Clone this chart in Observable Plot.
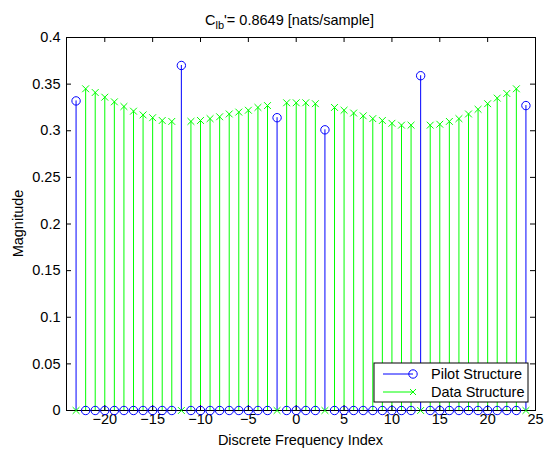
<!DOCTYPE html>
<html>
<head>
<meta charset="utf-8">
<script src="https://cdn.jsdelivr.net/npm/d3@7"></script>
<script src="https://cdn.jsdelivr.net/npm/@observablehq/plot@0.6"></script>
<style>
  html, body { margin: 0; padding: 0; background: #fff; }
  svg text { font-family: "Liberation Sans", Arial, Helvetica, sans-serif; }
</style>
</head>
<body>
<div id="chart"></div>
<script>
// Subcarrier indices of one OFDM symbol
const subcarriers = d3.range(-23, 25);

// Pilot subcarriers and their magnitudes
const pilotIndex = [-23, -12, -2, 3, 13, 24];
const pilotValues = [0.332, 0.370, 0.314, 0.301, 0.359, 0.327];

// Data subcarrier magnitudes, in order of the non-pilot indices
const dataValues = [
  0.345, 0.341, 0.336, 0.331, 0.326, 0.321, 0.317, 0.314, 0.311, 0.310,
  0.310, 0.311, 0.313, 0.315, 0.318, 0.320, 0.322, 0.325, 0.327,
  0.330, 0.330, 0.330, 0.329,
  0.325, 0.322, 0.319, 0.316, 0.313, 0.311, 0.308, 0.306, 0.306,
  0.306, 0.307, 0.310, 0.313, 0.318, 0.323, 0.329, 0.335, 0.340, 0.345
];

const xTicks = [-20, -15, -10, -5, 0, 5, 10, 15, 20, 25];
const yTicks = [0, 0.05, 0.1, 0.15, 0.2, 0.25, 0.3, 0.35, 0.4];

const titleMain = "C";
const titleSub = "lb";
const titleRest = "'= 0.8649 [nats/sample]";
const xLabel = "Discrete Frequency Index";
const yLabel = "Magnitude";
const legendLabels = ["Pilot Structure", "Data Structure"];

const pilotColor = "#0000ff";
const dataColor = "#00ff00";
const fontSize = 14.5;

// Each structure is zero on the other structure's subcarriers
const dataIndex = subcarriers.filter(k => !pilotIndex.includes(k));
const pilotRows = subcarriers.map(k => {
  const i = pilotIndex.indexOf(k);
  return {k, v: i >= 0 ? pilotValues[i] : 0};
});
const dataRows = subcarriers.map(k => {
  const i = dataIndex.indexOf(k);
  return {k, v: i >= 0 ? dataValues[i] : 0};
});

const W = 545, H = 453;
const mL = 66, mR = 10, mT = 37, mB = 43;
const plotW = W - mL - mR, plotH = H - mT - mB;
const tickLen = 5;

const chart = Plot.plot({
  width: W,
  height: H,
  marginLeft: mL,
  marginRight: mR,
  marginTop: mT,
  marginBottom: mB,
  style: {fontFamily: "Liberation Sans, Arial, Helvetica, sans-serif", fontSize: fontSize + "px", color: "#000", background: "#fff"},
  x: {domain: [-24, 25]},
  y: {domain: [0, 0.4]},
  marks: [
    // stems
    Plot.ruleX(dataRows, {x: "k", y1: 0, y2: "v", stroke: dataColor, strokeWidth: 1}),
    Plot.ruleX(pilotRows, {x: "k", y1: 0, y2: "v", stroke: pilotColor, strokeWidth: 1}),
    // inward ticks on all four sides of the box
    Plot.ruleX(xTicks, {x: d => d, insetTop: plotH - tickLen, stroke: "#000"}),
    Plot.ruleX(xTicks, {x: d => d, insetBottom: plotH - tickLen, stroke: "#000"}),
    Plot.ruleY(yTicks, {y: d => d, insetRight: plotW - tickLen, stroke: "#000"}),
    Plot.ruleY(yTicks, {y: d => d, insetLeft: plotW - tickLen, stroke: "#000"}),
    // tick labels
    Plot.axisX(xTicks, {anchor: "bottom", tickSize: 0, tickPadding: 3, label: null, fill: "#000"}),
    Plot.axisY(yTicks, {anchor: "left", tickSize: 0, tickPadding: 6, label: null, fill: "#000",
      tickFormat: d => String(+d.toFixed(2))}),
    Plot.frame({stroke: "#000", strokeWidth: 1}),
    // markers
    Plot.dot(pilotRows, {x: "k", y: "v", r: 4.2, stroke: pilotColor, strokeWidth: 1, fill: "none"}),
    Plot.dot(dataRows, {x: "k", y: "v", r: 3.2, symbol: "times", stroke: dataColor, strokeWidth: 1})
  ]
});

document.getElementById("chart").appendChild(chart);

const svg = d3.select(chart);
const cx = mL + plotW / 2;
const cy = mT + plotH / 2;

// Title with subscript
const title = svg.append("text")
  .attr("x", cx - 11)
  .attr("y", 25)
  .attr("text-anchor", "middle")
  .attr("font-size", fontSize)
  .attr("fill", "#000");
title.append("tspan").text(titleMain);
title.append("tspan").attr("dy", 4).attr("font-size", 11).text(titleSub);
title.append("tspan").attr("dy", -4).text(titleRest);

// Axis titles
svg.append("text")
  .attr("x", cx)
  .attr("y", 445)
  .attr("text-anchor", "middle")
  .attr("font-size", fontSize)
  .attr("fill", "#000")
  .text(xLabel);

svg.append("text")
  .attr("transform", `translate(23,${cy}) rotate(-90)`)
  .attr("text-anchor", "middle")
  .attr("font-size", fontSize)
  .attr("fill", "#000")
  .text(yLabel);

// Legend box in the lower right corner
const lg = svg.append("g").attr("transform", `translate(${W - mR - 161},${H - mB - 47})`);
lg.append("rect")
  .attr("x", 0).attr("y", 0).attr("width", 154).attr("height", 39)
  .attr("fill", "#fff").attr("stroke", "#000").attr("stroke-width", 1);
const rows = [
  {label: legendLabels[0], color: pilotColor, y: 11},
  {label: legendLabels[1], color: dataColor, y: 29}
];
rows.forEach((row, i) => {
  lg.append("line")
    .attr("x1", 9).attr("x2", 39).attr("y1", row.y).attr("y2", row.y)
    .attr("stroke", row.color).attr("stroke-width", 1);
  if (i === 0) {
    lg.append("circle").attr("cx", 39).attr("cy", row.y).attr("r", 4.2)
      .attr("fill", "none").attr("stroke", row.color).attr("stroke-width", 1);
  } else {
    lg.append("path")
      .attr("d", `M${36},${row.y - 3}L${42},${row.y + 3}M${36},${row.y + 3}L${42},${row.y - 3}`)
      .attr("stroke", row.color).attr("stroke-width", 1);
  }
  lg.append("text")
    .attr("x", 57).attr("y", row.y + 5)
    .attr("text-anchor", "start")
    .attr("font-size", fontSize).attr("fill", "#000")
    .text(row.label);
});
</script>
</body>
</html>
